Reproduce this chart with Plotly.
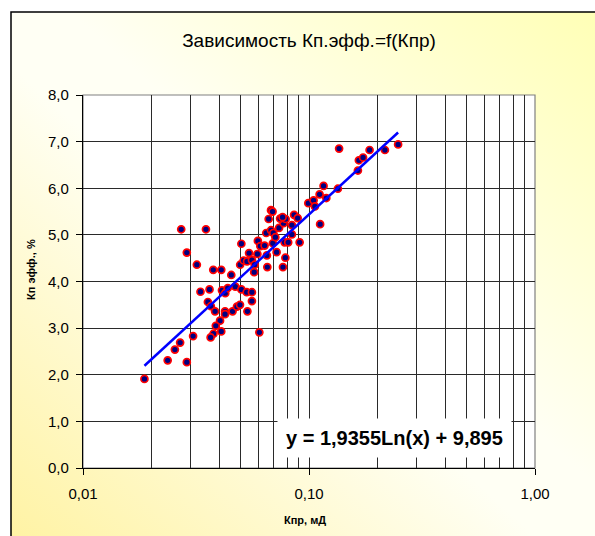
import base64
import numpy as np
import plotly.graph_objects as go

# Permeability (Кпр, мД) and effective porosity (Кп эфф., %) samples
kpr = [0.0187, 0.0237, 0.0255, 0.0269, 0.0288, 0.0307, 0.0272, 0.0350, 0.0288, 0.0319,
       0.0377, 0.0409, 0.0453, 0.0331, 0.0363, 0.0357, 0.0368, 0.0384, 0.0412, 0.0426,
       0.0437, 0.0472, 0.0502, 0.0530, 0.0559, 0.0559, 0.0425, 0.0425, 0.0459, 0.0480,
       0.0495, 0.0534, 0.0404, 0.0387, 0.0409, 0.0378, 0.0367, 0.0603, 0.0502, 0.0543,
       0.0496, 0.0514, 0.0532, 0.0559, 0.0575, 0.0572, 0.0591, 0.0651, 0.0719, 0.0786,
       0.0654, 0.0767, 0.0594, 0.0609, 0.0636, 0.0692, 0.0780, 0.0809, 0.0909, 0.0647,
       0.0679, 0.0695, 0.0710, 0.0737, 0.0840, 0.0772, 0.0745, 0.0788, 0.0679, 0.0690,
       0.0663, 0.0764, 0.0859, 0.0891, 0.0840, 0.0993, 0.1048, 0.1114, 0.1160, 0.1193,
       0.1120, 0.1342, 0.1359, 0.1646, 0.1662, 0.1735, 0.1854, 0.2167, 0.2479, 0.1062]
kp_eff = [1.91, 2.31, 2.54, 2.69, 2.27, 2.83, 5.12, 5.12, 4.62, 4.36,
          4.25, 4.25, 4.14, 3.78, 3.83, 3.56, 3.47, 3.36, 3.81, 3.75,
          3.86, 3.89, 3.83, 3.77, 3.77, 3.58, 3.36, 3.30, 3.36, 3.46,
          3.50, 3.36, 3.16, 3.05, 2.93, 2.88, 2.80, 2.91, 4.81, 4.61,
          4.36, 4.45, 4.43, 4.46, 4.36, 4.20, 4.59, 4.56, 4.63, 4.51,
          4.31, 4.31, 4.87, 4.76, 4.77, 4.82, 4.84, 4.84, 4.84, 5.04,
          5.10, 5.04, 4.95, 5.15, 5.01, 5.25, 5.35, 5.34, 5.53, 5.50,
          5.34, 5.38, 5.43, 5.36, 5.21, 5.68, 5.74, 5.87, 6.05, 5.79,
          5.23, 5.99, 6.85, 6.38, 6.60, 6.66, 6.82, 6.82, 6.94, 5.61]

# Logarithmic trend y = a*ln(x) + b
trend_a = 1.9355
trend_b = 9.895

x_major = [0.01, 0.1, 1.0]
x_minor = [m * d for d in (0.01, 0.1) for m in range(2, 10)]

FONT = "Arial, Liberation Sans, sans-serif"
GRID = "#2a2a2a"

# Plot-area geometry in pixels (used only to place decorations in paper units)
W, H = 595, 536
ML, MR, MT, MB = 83, 60, 95, 68
PW, PH = W - ML - MR, H - MT - MB


def px_to_paper_x(px):
    return (px - ML) / PW


def px_to_paper_y(py):
    return (H - MB - py) / PH


x_fit = np.geomspace(min(kpr), max(kpr), 50)
y_fit = trend_a * np.log(x_fit) + trend_b

fig = go.Figure()
fig.add_trace(go.Scatter(
    x=kpr, y=kp_eff, mode="markers",
    marker=dict(size=7, color="#000080", line=dict(color="#FF0000", width=1.7)),
    showlegend=False,
))
fig.add_trace(go.Scatter(
    x=x_fit, y=y_fit, mode="lines",
    line=dict(color="#0000FF", width=2.5),
    showlegend=False,
))

# Diagonal white-to-yellow chart-area fill
svg = (
    '<svg xmlns="http://www.w3.org/2000/svg" width="584" height="524" preserveAspectRatio="none">'
    '<defs><linearGradient id="g" x1="0" y1="1" x2="1" y2="0">'
    '<stop offset="0" stop-color="#FFF3A4"/>'
    '<stop offset="0.45" stop-color="#FFFFF4"/>'
    '<stop offset="0.55" stop-color="#FFFFF4"/>'
    '<stop offset="1" stop-color="#FFFFB6"/>'
    '</linearGradient></defs>'
    '<rect x="0" y="0" width="584" height="524" fill="url(#g)"/></svg>'
)
svg_uri = "data:image/svg+xml;base64," + base64.b64encode(svg.encode()).decode()

frame_x0 = px_to_paper_x(11)
frame_y0 = px_to_paper_y(12)

fig.update_layout(
    width=W, height=H,
    margin=dict(l=ML, r=MR, t=MT, b=MB),
    paper_bgcolor="white",
    plot_bgcolor="white",
    separators=", ",
    font=dict(family=FONT, color="black"),
    title=dict(
        text="Зависимость Кп.эфф.=f(Кпр)",
        x=0.5, xref="paper", xanchor="center",
        y=1 - 40 / H, yref="container", yanchor="middle",
        font=dict(family=FONT, size=19, color="black"),
    ),
    images=[dict(
        source=svg_uri, xref="paper", yref="paper",
        x=frame_x0, y=frame_y0, sizex=px_to_paper_x(W) - frame_x0,
        sizey=frame_y0 - px_to_paper_y(H),
        xanchor="left", yanchor="top", sizing="stretch", layer="below",
    )],
    shapes=[
        # white plot area with grey border
        dict(type="rect", xref="paper", yref="paper", x0=0, y0=0, x1=1, y1=1,
             fillcolor="white", line=dict(color="#808080", width=1.2), layer="below"),
        # chart frame (left and top edges)
        dict(type="path", xref="paper", yref="paper",
             path=f"M {frame_x0},{px_to_paper_y(H + 5)} L {frame_x0},{frame_y0} "
                  f"L {px_to_paper_x(W + 5)},{frame_y0}",
             line=dict(color="black", width=1.5)),
    ],
    xaxis=dict(
        type="log", range=[-2, 0],
        tickmode="array", tickvals=x_major, tickformat=".2f",
        ticks="outside", ticklen=6, tickcolor="black", tickwidth=1.2,
        ticklabelstandoff=6,
        showgrid=True, gridcolor=GRID, gridwidth=1.4,
        minor=dict(tickvals=x_minor, showgrid=True, gridcolor=GRID, gridwidth=1.4, ticks=""),
        showline=True, linecolor="black", linewidth=1.3,
        zeroline=False,
        tickfont=dict(family=FONT, size=15, color="black"),
    ),
    yaxis=dict(
        range=[0, 8], dtick=1, tick0=0, tickformat=".1f",
        ticks="outside", ticklen=6, tickcolor="black", tickwidth=1.2,
        ticklabelstandoff=4,
        showgrid=True, gridcolor=GRID, gridwidth=1.4,
        showline=True, linecolor="black", linewidth=1.3,
        zeroline=False,
        tickfont=dict(family=FONT, size=15, color="black"),
    ),
    annotations=[
        dict(text="<b>Кпр, мД</b>", xref="paper", yref="paper",
             x=px_to_paper_x(305), y=px_to_paper_y(520), showarrow=False,
             xanchor="center", yanchor="middle",
             font=dict(family=FONT, size=11, color="black")),
        dict(text="<b>Кп эфф., %</b>", xref="paper", yref="paper",
             x=px_to_paper_x(31), y=px_to_paper_y(270), showarrow=False,
             textangle=-90, xanchor="center", yanchor="middle",
             font=dict(family=FONT, size=11, color="black")),
        dict(text=f"<b>y = {trend_a:.4f}Ln(x) + {trend_b:.3f}</b>".replace(".", ","),
             xref="paper", yref="paper",
             x=px_to_paper_x(394), y=px_to_paper_y(438), showarrow=False,
             xanchor="center", yanchor="middle",
             bgcolor="white", borderpad=8,
             font=dict(family=FONT, size=20, color="black")),
    ],
)

fig.write_html("out.html")
